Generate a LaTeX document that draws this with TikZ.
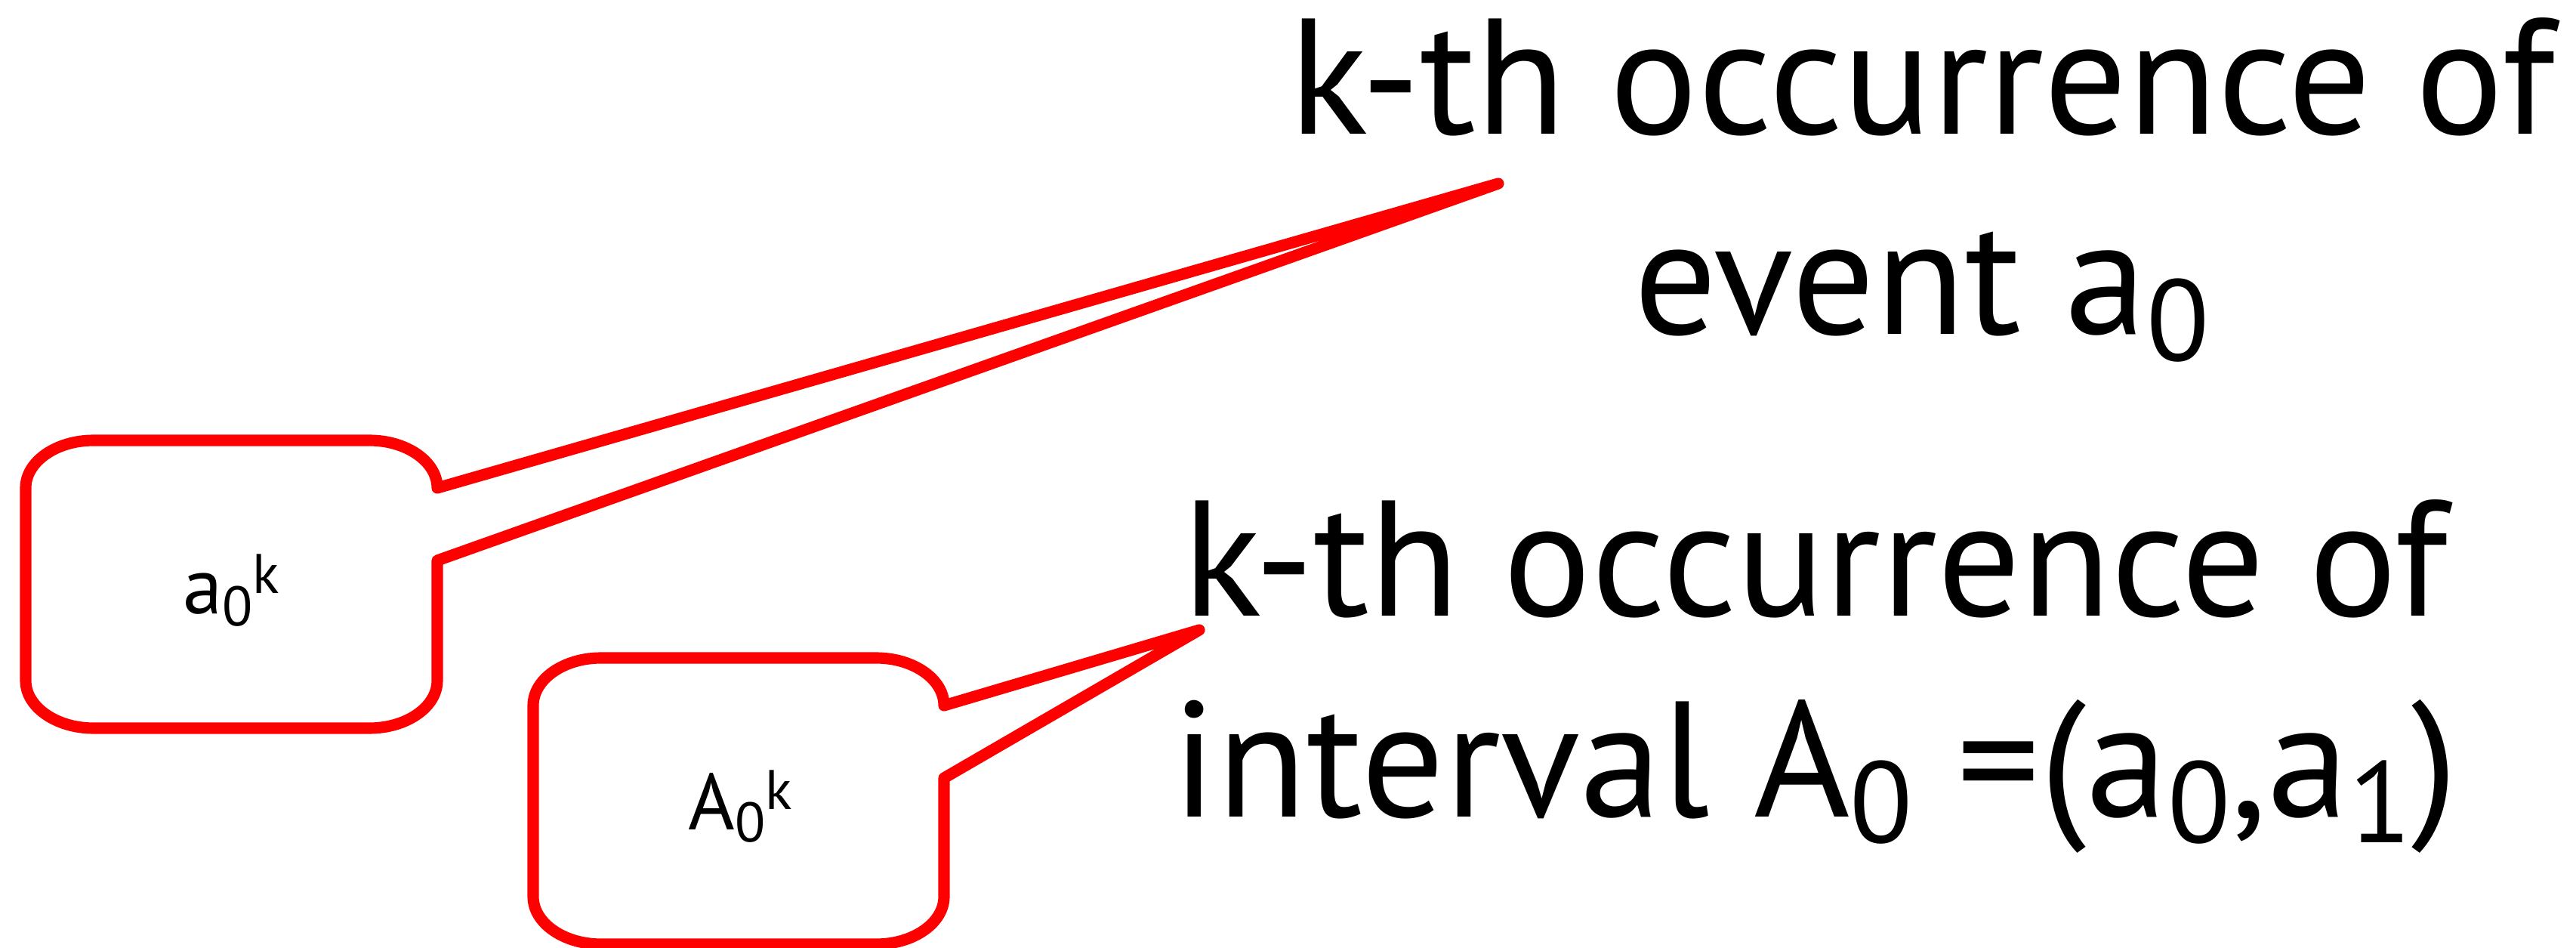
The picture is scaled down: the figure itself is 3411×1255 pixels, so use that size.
\documentclass[tikz,border=0pt]{standalone}
\usepackage{fontspec}
\setmainfont{PT Sans}
\newcommand\lowidx[1]{\raisebox{-0.16em}{\scalebox{0.7}{#1}}}
\newcommand\highidx[1]{\raisebox{0.25em}{\scalebox{0.7}{#1}}}
\tikzset{
  balloon/.style={draw=red,line width=4.3pt,line join=round,fill=white},
  note/.style={align=center,font=\fontsize{62}{75.6}\selectfont,inner sep=0pt,anchor=base},
  tag/.style={font=\fontsize{30}{36}\selectfont,inner sep=0pt,anchor=base}
}
\begin{document}
\begin{tikzpicture}[x=0.01cm,y=-0.01cm]
  \useasboundingbox (0,0) rectangle (3411,1255);
  \coordinate (tipA) at (1984,243);
  \coordinate (tipB) at (1588,834);
  % event balloon
  \draw[balloon] (34,646) arc[start angle=180,end angle=270,x radius=90,y radius=63]
    -- (489,583) arc[start angle=270,end angle=360,x radius=90,y radius=63]
    -- (tipA) -- (579,742) -- (579,901)
    arc[start angle=0,end angle=90,x radius=90,y radius=63]
    -- (124,964) arc[start angle=90,end angle=180,x radius=90,y radius=63] -- cycle;
  % interval balloon
  \draw[balloon] (706,934) arc[start angle=180,end angle=270,x radius=90,y radius=63]
    -- (1160,871) arc[start angle=270,end angle=360,x radius=90,y radius=63]
    -- (tipB) -- (1250,1030) -- (1250,1187)
    arc[start angle=0,end angle=90,x radius=90,y radius=63]
    -- (796,1250) arc[start angle=90,end angle=180,x radius=90,y radius=63] -- cycle;
  \node[tag] (evk) at (306,812) {a\lowidx{0}\highidx{k}};
  \node[tag] (ivk) at (980,1098) {A\lowidx{0}\highidx{k}};
  % anchor base = last line
  \node[note] (evnote) at (2545,443) {k-th occurrence of\\event a\lowidx{0}};
  \node[note] (ivnote) at (2404,1081) {k-th occurrence of\\interval A\lowidx{0} =(a\lowidx{0},a\lowidx{1})};
\end{tikzpicture}
\end{document}
